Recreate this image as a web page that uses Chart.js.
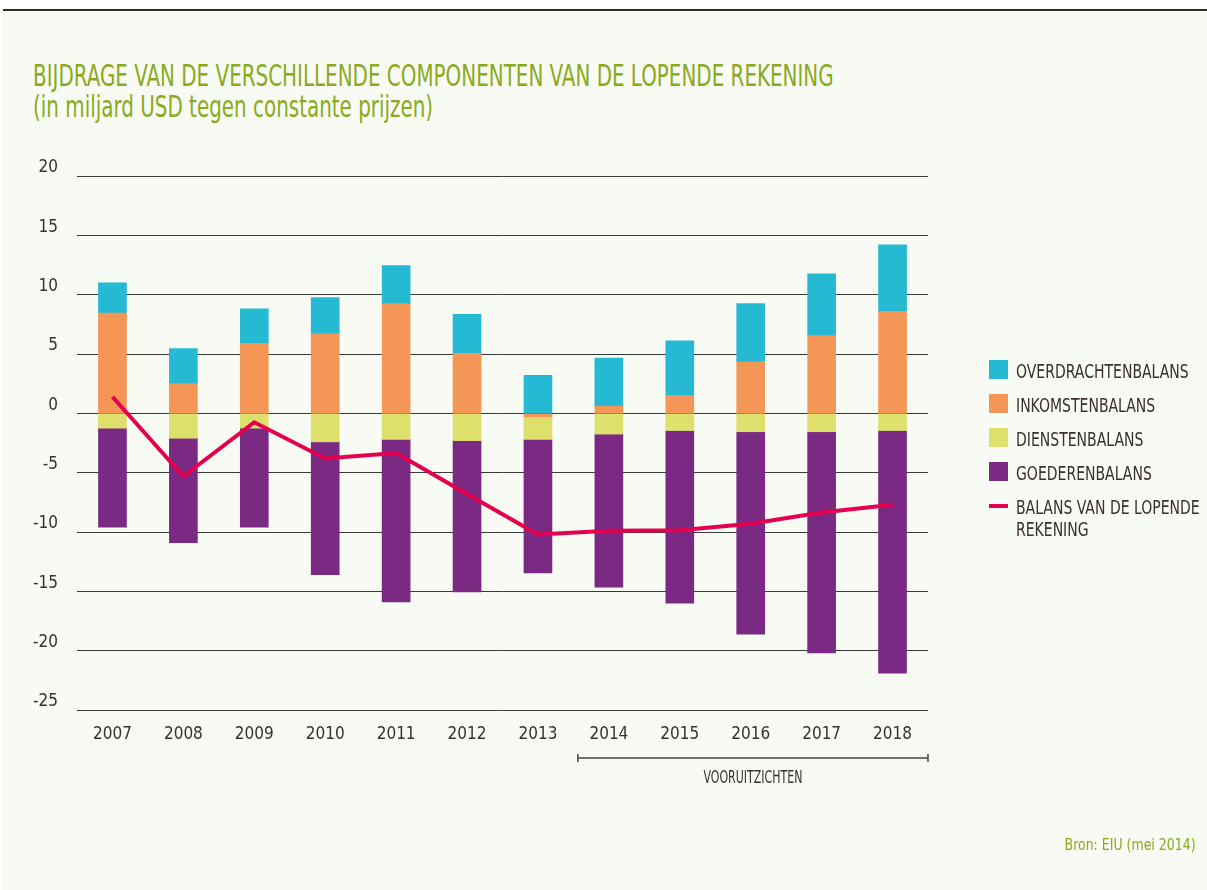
<!DOCTYPE html>
<html>
<head>
<meta charset="utf-8">
<script src="https://cdn.jsdelivr.net/npm/chart.js@4.4.0/dist/chart.umd.min.js"></script>
<style>
  html, body { margin: 0; padding: 0; background: #ffffff; }
  body { width: 1207px; height: 890px; position: relative; overflow: hidden;
         font-family: "Liberation Sans Narrow", "DejaVu Sans Condensed", sans-serif; }
  #page { position: absolute; left: 3px; top: 9px; right: 0; bottom: 0;
          background: #f8faf4; border-top: 2px solid #2a2a2a; }
  #title { position: absolute; left: 33px; top: 60px; color: #8aaa1c; font-size: 31px;
           line-height: 31px; white-space: nowrap; transform: scaleX(0.714); transform-origin: left top; }
  #wrap { position: absolute; left: 0; top: 0; width: 1207px; height: 890px; }
  #legend { position: absolute; left: 989px; top: 360px; color: #3a3030; font-size: 19px; }
  .item { position: relative; height: 34px; line-height: 22px; white-space: nowrap; }
  .item .txt { position: absolute; left: 27px; top: 0px; display: inline-block;
               transform: scaleX(0.82); transform-origin: left top; }
  .box { position: absolute; left: 0; top: 0; width: 19px; height: 19px; }
  .dash { position: absolute; left: 0; top: 8px; width: 19px; height: 4px; }
  #bron { position: absolute; right: 11px; top: 835px; color: #8aaa1c; font-size: 16px;
          transform: scaleX(0.87); transform-origin: right top; }
</style>
</head>
<body>
<div id="page"></div>
<div id="title">BIJDRAGE VAN DE VERSCHILLENDE COMPONENTEN VAN DE LOPENDE REKENING<br>(in miljard USD tegen constante prijzen)</div>
<div id="wrap"><canvas id="mychart" width="1207" height="890"></canvas></div>
<div id="legend"></div>
<div id="bron">Bron: EIU (mei 2014)</div>

<script>
// Start Data
const years = ['2007','2008','2009','2010','2011','2012','2013','2014','2015','2016','2017','2018'];
const yTicks = [20, 15, 10, 5, 0, -5, -10, -15, -20, -25];
const overdrachten = [2.55, 2.95, 2.9, 3.05, 3.2, 3.3, 3.2, 4.05, 4.6, 4.9, 5.2, 5.6];
const inkomsten    = [8.45, 2.5, 5.9, 6.7, 9.25, 5.05, -0.3, 0.6, 1.5, 4.35, 6.55, 8.6];
const diensten     = [-1.25, -2.1, -1.25, -2.4, -2.2, -2.3, -1.9, -1.75, -1.45, -1.55, -1.55, -1.45];
const goederen     = [-8.35, -8.8, -8.35, -11.2, -13.7, -12.75, -11.25, -12.9, -14.55, -17.05, -18.65, -20.45];
const balans       = [1.4, -5.3, -0.75, -3.8, -3.35, -6.8, -10.2, -9.9, -9.85, -9.3, -8.35, -7.7];
const forecastLabel = 'VOORUITZICHTEN';
const forecastFrom = 7; // index of 2014
// End Data

const colors = {
  overdrachten: '#26b9d3',
  inkomsten: '#f39656',
  diensten: '#dde06b',
  goederen: '#7b2a83',
  balans: '#e5004f'
};
const fontFamily = '"Liberation Sans Narrow", "DejaVu Sans Condensed", sans-serif';
const axisFont = { family: fontFamily, size: 17 };

// Start Legend
const legendItems = [
  ['OVERDRACHTENBALANS', colors.overdrachten, 'box'],
  ['INKOMSTENBALANS', colors.inkomsten, 'box'],
  ['DIENSTENBALANS', colors.diensten, 'box'],
  ['GOEDERENBALANS', colors.goederen, 'box'],
  ['BALANS VAN DE LOPENDE<br>REKENING', colors.balans, 'dash']
];
let html = '';
legendItems.forEach(function(it){
  html += '<div class="item"><span class="' + it[2] + '" style="background:' + it[1] + '"></span><span class="txt">' + it[0] + '</span></div>';
});
document.getElementById('legend').innerHTML = html;
// End Legend

// bracket under forecast years
const forecastPlugin = {
  id: 'forecast',
  afterDraw(chart){
    const c = chart.ctx;
    const xs = chart.scales.x;
    const left = xs.getPixelForValue(forecastFrom) - 31;
    const right = chart.chartArea.right;
    const y = 758;
    c.save();
    c.strokeStyle = '#444';
    c.lineWidth = 1.5;
    c.beginPath();
    c.moveTo(left, y); c.lineTo(right, y);
    c.moveTo(left, y - 4); c.lineTo(left, y + 4);
    c.moveTo(right, y - 4); c.lineTo(right, y + 4);
    c.stroke();
    c.fillStyle = '#333';
    c.font = '17px ' + fontFamily;
    c.textAlign = 'center';
    c.textBaseline = 'middle';
    c.translate((left + right) / 2, 779);
    c.scale(0.72, 1);
    c.fillText(forecastLabel, 0, 0);
    c.restore();
  }
};

const ctx = document.getElementById('mychart');

new Chart(ctx, {
  data: {
    labels: years,
    datasets: [
      { type: 'line', label: 'BALANS VAN DE LOPENDE REKENING', data: balans, stack: 'line',
        borderColor: colors.balans, borderWidth: 4, pointRadius: 0, tension: 0, fill: false },
      { type: 'bar', label: 'INKOMSTENBALANS', data: inkomsten, stack: 'bars', backgroundColor: colors.inkomsten },
      { type: 'bar', label: 'OVERDRACHTENBALANS', data: overdrachten, stack: 'bars', backgroundColor: colors.overdrachten },
      { type: 'bar', label: 'DIENSTENBALANS', data: diensten, stack: 'bars', backgroundColor: colors.diensten },
      { type: 'bar', label: 'GOEDERENBALANS', data: goederen, stack: 'bars', backgroundColor: colors.goederen }
    ]
  },
  options: {
    responsive: false,
    animation: false,
    layout: { padding: { left: 0, top: 176, right: 279, bottom: 130 } },
    datasets: { bar: { barThickness: 28 } },
    plugins: { legend: { display: false }, tooltip: { enabled: false } },
    scales: {
      x: {
        stacked: true,
        grid: { display: false },
        border: { display: false },
        ticks: { color: '#333', font: axisFont, padding: 6 },
        afterFit(scale){ scale.height = 50; }
      },
      y: {
        stacked: true,
        min: -25, max: 20,
        afterBuildTicks(scale){ scale.ticks = yTicks.map(function(v){ return { value: v }; }); },
        grid: { color: '#3a3a3a', lineWidth: 1, drawTicks: false },
        border: { display: false },
        ticks: { color: '#333', font: axisFont, padding: 19, labelOffset: -8 },
        afterFit(scale){ scale.width = 77; }
      }
    }
  },
  plugins: [forecastPlugin]
});
</script>
</body>
</html>
